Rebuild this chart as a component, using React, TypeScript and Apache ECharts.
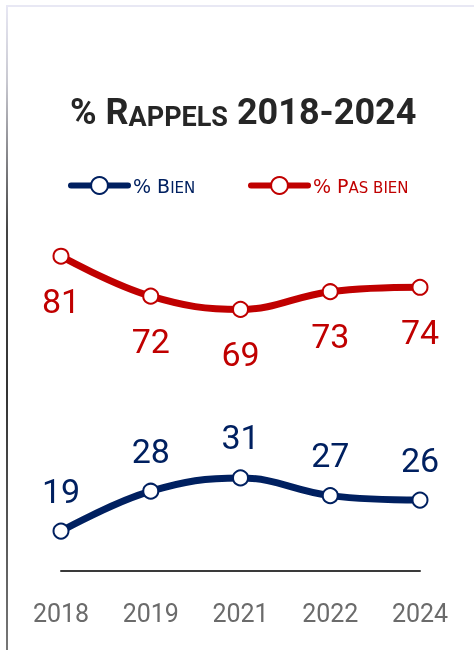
import React, { useEffect, useRef } from 'react';
import * as echarts from 'echarts';

const years = ['2018', '2019', '2021', '2022', '2024'];
const bien = [19, 28, 31, 27, 26];
const pasBien = [81, 72, 69, 73, 74];

const NAVY = '#002060';
const RED = '#C00000';
const NUM = 'Roboto, "DejaVu Sans Condensed", sans-serif';
const LEG = '"DejaVu Sans", sans-serif';

export default function App() {
  const ref = useRef<HTMLDivElement>(null);
  useEffect(() => {
    const chart = echarts.init(ref.current!, null, { renderer: 'svg' });
    const symbolStyle = (c: string) => ({ color: '#ffffff', borderColor: c, borderWidth: 2 });
    const legendCommon = {
      top: 176,
      itemWidth: 57,
      itemHeight: 21,
      padding: 0,
      lineStyle: { width: 6, cap: 'round' },
      itemStyle: { borderWidth: 2 },
    };
    chart.setOption({
      animation: false,
      title: {
        text: '{a|% R}{b|APPELS}{a| 2018-2024}',
        left: 70,
        top: 94,
        padding: 0,
        textStyle: {
          rich: {
            a: { fontFamily: NUM, fontWeight: 'bold', fontSize: 36, lineHeight: 36, color: '#262626', verticalAlign: 'bottom' },
            b: { fontFamily: NUM, fontWeight: 'bold', fontSize: 27, lineHeight: 27, color: '#262626', verticalAlign: 'bottom' },
          },
        },
      },
      legend: [
        {
          ...legendCommon,
          left: 68,
          data: ['% Bien'],
          formatter: () => '{a|% B}{b|IEN}',
          textStyle: {
            rich: {
              a: { fontFamily: LEG, fontSize: 19, lineHeight: 19, color: NAVY, verticalAlign: 'bottom' },
              b: { fontFamily: LEG, fontSize: 15, lineHeight: 15, color: NAVY, verticalAlign: 'bottom' },
            },
          },
        },
        {
          ...legendCommon,
          left: 248,
          data: ['% Pas bien'],
          formatter: () => '{a|% P}{b|AS BIEN}',
          textStyle: {
            rich: {
              a: { fontFamily: LEG, fontSize: 19, lineHeight: 19, color: RED, verticalAlign: 'bottom' },
              b: { fontFamily: LEG, fontSize: 15, lineHeight: 15, color: RED, verticalAlign: 'bottom' },
            },
          },
        },
      ],
      grid: { left: 61, right: 54, top: 172, bottom: 79 },
      xAxis: {
        type: 'category',
        data: years,
        boundaryGap: false,
        axisLine: { lineStyle: { color: '#3a3a3a', width: 2 } },
        axisTick: { show: false },
        axisLabel: { color: '#6b6b6b', fontSize: 25, fontFamily: NUM, margin: 30 },
      },
      yAxis: { type: 'value', min: 10, max: 100, show: false },
      series: [
        {
          name: '% Bien',
          type: 'line',
          data: bien,
          smooth: 0.4,
          symbol: 'circle',
          symbolSize: 15,
          lineStyle: { color: NAVY, width: 7, cap: 'round' },
          itemStyle: symbolStyle(NAVY),
          label: { show: true, position: 'top', distance: 15, color: NAVY, fontSize: 34, lineHeight: 34, fontFamily: NUM },
        },
        {
          name: '% Pas bien',
          type: 'line',
          data: pasBien,
          smooth: 0.4,
          symbol: 'circle',
          symbolSize: 15,
          lineStyle: { color: RED, width: 7, cap: 'round' },
          itemStyle: symbolStyle(RED),
          label: { show: true, position: 'bottom', distance: 19, color: RED, fontSize: 34, lineHeight: 34, fontFamily: NUM },
        },
      ],
      graphic: [
        { type: 'rect', shape: { x: 8, y: 5, width: 466, height: 2 }, style: { fill: '#e8e8f4' } },
        {
          type: 'rect',
          shape: { x: 6, y: 5, width: 2, height: 645 },
          style: {
            fill: new echarts.graphic.LinearGradient(0, 0, 0, 1, [
              { offset: 0, color: '#e8e8f4' },
              { offset: 0.12, color: '#c8c8d0' },
              { offset: 0.35, color: '#444444' },
              { offset: 0.6, color: '#333333' },
              { offset: 1, color: '#777777' },
            ]),
          },
        },
      ],
    });
    return () => chart.dispose();
  }, []);
  return <div ref={ref} style={{ position: 'fixed', left: 0, top: 0, width: 474, height: 650 }} />;
}
